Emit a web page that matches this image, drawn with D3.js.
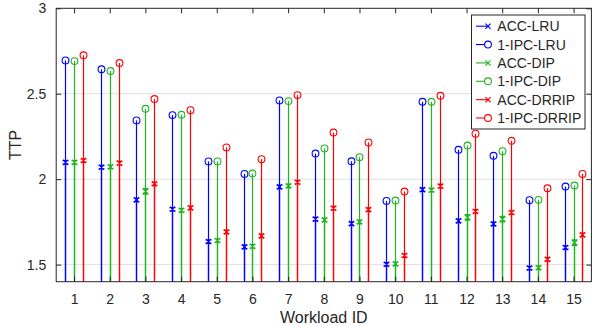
<!DOCTYPE html>
<html>
<head>
<meta charset="utf-8">
<script src="https://cdn.jsdelivr.net/npm/d3@7"></script>
<style>
  body { margin: 0; background: #fff; }
  text { font-family: "Liberation Sans", Arial, sans-serif; fill: #262626; }
</style>
</head>
<body>
<div id="chart"></div>
<script>
const workloads = [1, 2, 3, 4, 5, 6, 7, 8, 9, 10, 11, 12, 13, 14, 15];
const yTicks = [1.5, 2, 2.5, 3];

const accLRU   = [2.098, 2.070, 1.879, 1.824, 1.635, 1.604, 1.955, 1.766, 1.740, 1.502, 1.939, 1.756, 1.738, 1.480, 1.600];
const ipcLRU   = [2.695, 2.643, 2.344, 2.375, 2.104, 2.031, 2.461, 2.150, 2.105, 1.873, 2.453, 2.172, 2.137, 1.877, 1.957];
const accDIP   = [2.098, 2.072, 1.928, 1.818, 1.641, 1.607, 1.961, 1.762, 1.750, 1.504, 1.936, 1.777, 1.766, 1.482, 1.629];
const ipcDIP   = [2.691, 2.633, 2.412, 2.377, 2.104, 2.033, 2.457, 2.180, 2.129, 1.875, 2.453, 2.197, 2.164, 1.879, 1.963];
const accDRRIP = [2.109, 2.094, 1.973, 1.832, 1.691, 1.668, 1.982, 1.830, 1.822, 1.553, 1.959, 1.811, 1.805, 1.531, 1.674];
const ipcDRRIP = [2.725, 2.680, 2.469, 2.404, 2.186, 2.117, 2.492, 2.273, 2.215, 1.928, 2.488, 2.266, 2.225, 1.947, 2.031];

// small error bars on the ACC points
const errLRU   = [0.010, 0.010, 0.010, 0.010, 0.010, 0.010, 0.010, 0.010, 0.010, 0.010, 0.010, 0.010, 0.010, 0.010, 0.010];
const errDIP   = [0.010, 0.010, 0.016, 0.010, 0.010, 0.010, 0.010, 0.010, 0.010, 0.010, 0.010, 0.016, 0.016, 0.010, 0.016];
const errDRRIP = [0.010, 0.010, 0.010, 0.010, 0.010, 0.010, 0.010, 0.010, 0.010, 0.010, 0.010, 0.010, 0.010, 0.010, 0.010];

const series = [
  { name: 'LRU',   color: '#0000ff', offset: -0.25, acc: accLRU,   ipc: ipcLRU,   err: errLRU },
  { name: 'DIP',   color: '#1fb51f', offset: 0,     acc: accDIP,   ipc: ipcDIP,   err: errDIP },
  { name: 'DRRIP', color: '#ff0000', offset: 0.25,  acc: accDRRIP, ipc: ipcDRRIP, err: errDRRIP }
];

const W = 592, H = 326;
const margin = { top: 8.3, right: 0.6, bottom: 44.3, left: 56.2 };
const width = W - margin.left - margin.right;
const height = H - margin.top - margin.bottom;
const axisColor = '#262626';

const x = d3.scaleLinear().domain([0.5, 15.5]).range([0, width]);
const y = d3.scaleLinear().domain([1.4, 3]).range([height, 0]);

const svg = d3.select('#chart').append('svg')
    .attr('width', W)
    .attr('height', H);

const g = svg.append('g')
    .attr('transform', `translate(${margin.left},${margin.top})`);

// Grid
g.append('g')
    .selectAll('line')
    .data(yTicks.filter(t => t < 3))
    .enter().append('line')
    .attr('x1', 0).attr('x2', width)
    .attr('y1', d => y(d)).attr('y2', d => y(d))
    .attr('stroke', '#dfdfdf')
    .attr('stroke-width', 1);

// Stems and markers
series.forEach(s => {
  const grp = g.append('g');
  workloads.forEach((w, i) => {
    const cx = Math.round(margin.left + x(w + s.offset)) + 0.5 - margin.left;
    // stem up to the 1-IPC circle
    grp.append('line')
        .attr('x1', cx).attr('x2', cx)
        .attr('y1', y(1.4)).attr('y2', y(s.ipc[i]))
        .attr('stroke', s.color).attr('stroke-width', 1.2);
    // stem up to the ACC value (overlaps the lower part)
    grp.append('line')
        .attr('x1', cx).attr('x2', cx)
        .attr('y1', y(1.4)).attr('y2', y(s.acc[i]))
        .attr('stroke', s.color).attr('stroke-width', 1.3);
    grp.append('circle')
        .attr('cx', cx).attr('cy', y(s.ipc[i]))
        .attr('r', 3.4)
        .attr('fill', 'none')
        .attr('stroke', s.color).attr('stroke-width', 1.1);

    // ACC marker: x plus error bar
    const cy = y(s.acc[i]);
    const top = y(s.acc[i] + s.err[i]);
    const bot = y(s.acc[i] - s.err[i]);
    const m = 2.6, cap = 3;
    grp.append('path')
        .attr('d', `M${cx - m},${cy - m}L${cx + m},${cy + m}M${cx - m},${cy + m}L${cx + m},${cy - m}` +
                   `M${cx},${top}L${cx},${bot}M${cx - cap},${top}L${cx + cap},${top}M${cx - cap},${bot}L${cx + cap},${bot}`)
        .attr('fill', 'none')
        .attr('stroke', s.color).attr('stroke-width', 1.3);
  });
});

// Box
g.append('rect')
    .attr('x', 0).attr('y', 0)
    .attr('width', width).attr('height', height)
    .attr('fill', 'none')
    .attr('stroke', axisColor).attr('stroke-width', 1);

// X axis (bottom, ticks inward)
const xAxis = g.append('g')
    .attr('transform', `translate(0,${height})`)
    .call(d3.axisBottom(x).tickValues(workloads).tickSizeInner(-5).tickSizeOuter(0).tickPadding(12));
xAxis.select('.domain').remove();
xAxis.selectAll('line').attr('stroke', axisColor);
xAxis.selectAll('text').style('font-size', '14px').attr('fill', axisColor);

// Top ticks
const xTop = g.append('g')
    .call(d3.axisTop(x).tickValues(workloads).tickSizeInner(-5).tickSizeOuter(0).tickFormat(''));
xTop.select('.domain').remove();
xTop.selectAll('line').attr('stroke', axisColor);

// Y axis (left, ticks inward)
const yAxis = g.append('g')
    .call(d3.axisLeft(y).tickValues(yTicks).tickSizeInner(-5).tickSizeOuter(0).tickPadding(10).tickFormat(d3.format('')));
yAxis.select('.domain').remove();
yAxis.selectAll('line').attr('stroke', axisColor);
yAxis.selectAll('text').style('font-size', '14px').attr('fill', axisColor);

// Right ticks
const yRight = g.append('g')
    .attr('transform', `translate(${width},0)`)
    .call(d3.axisRight(y).tickValues(yTicks).tickSizeInner(-5).tickSizeOuter(0).tickFormat(''));
yRight.select('.domain').remove();
yRight.selectAll('line').attr('stroke', axisColor);

// Axis labels
svg.append('text')
    .attr('x', margin.left + width / 2)
    .attr('y', 323)
    .attr('text-anchor', 'middle')
    .style('font-size', '16px')
    .text('Workload ID');

svg.append('text')
    .attr('transform', `translate(21,${margin.top + height / 2}) rotate(-90)`)
    .attr('text-anchor', 'middle')
    .style('font-size', '16px')
    .text('TTP');

// Legend
const legendItems = [];
series.forEach(s => {
  legendItems.push({ label: 'ACC-' + s.name, color: s.color, marker: 'x' });
  legendItems.push({ label: '1-IPC-' + s.name, color: s.color, marker: 'o' });
});

const lg = svg.append('g');
lg.append('rect')
    .attr('x', 471.5).attr('y', 15)
    .attr('width', 113.5).attr('height', 114)
    .attr('fill', '#fff')
    .attr('stroke', axisColor).attr('stroke-width', 1);

const rowY = d3.scaleLinear().domain([0, 5]).range([26.2, 118]);
legendItems.forEach((d, i) => {
  const ly = rowY(i);
  lg.append('line')
      .attr('x1', 476).attr('x2', 489)
      .attr('y1', ly).attr('y2', ly)
      .attr('stroke', d.color).attr('stroke-width', 1.1);
  if (d.marker === 'o') {
    lg.append('circle')
        .attr('cx', 488).attr('cy', ly).attr('r', 3.4)
        .attr('fill', '#fff')
        .attr('stroke', d.color).attr('stroke-width', 1.1);
  } else {
    const m = 2.6;
    lg.append('path')
        .attr('d', `M${488 - m},${ly - m}L${488 + m},${ly + m}M${488 - m},${ly + m}L${488 + m},${ly - m}`)
        .attr('stroke', d.color).attr('stroke-width', 1.1);
  }
  lg.append('text')
      .attr('x', 497.3).attr('y', ly)
      .attr('dy', '0.36em')
      .style('font-size', '14px')
      .attr('fill', '#000')
      .text(d.label);
});
</script>
</body>
</html>
